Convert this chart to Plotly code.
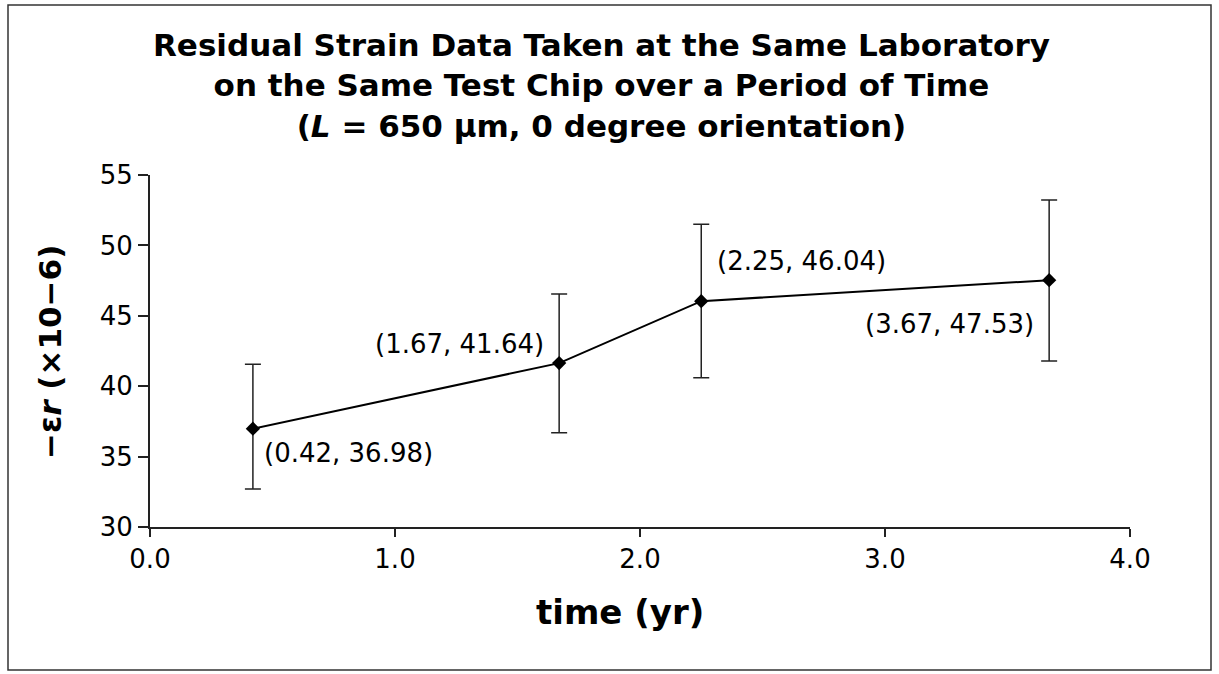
import plotly.graph_objects as go

# Data
time_yr = [0.42, 1.67, 2.25, 3.67]
strain = [36.98, 41.64, 46.04, 47.53]
err_plus = [4.58, 4.91, 5.46, 5.69]
err_minus = [4.28, 4.94, 5.44, 5.74]
point_labels = ["(0.42, 36.98)", "(1.67, 41.64)", "(2.25, 46.04)", "(3.67, 47.53)"]
x_ticks = [0, 1, 2, 3, 4]
x_tick_text = ["0.0", "1.0", "2.0", "3.0", "4.0"]
y_ticks = [30, 35, 40, 45, 50, 55]

FONT = "DejaVu Sans"

fig = go.Figure()
fig.add_trace(go.Scatter(
    x=time_yr, y=strain, mode="lines+markers",
    line=dict(color="black", width=2),
    marker=dict(symbol="diamond", size=11, color="black"),
    error_y=dict(type="data", symmetric=False, array=err_plus, arrayminus=err_minus,
                 color="#222222", thickness=1.5, width=8),
    showlegend=False,
))

# label offsets (pixels)
offsets = [("left", 9, -24), ("right", -13, 19), ("left", 14, 40), ("right", -13, -44)]
for xv, yv, txt, (anc, dx, dy) in zip(time_yr, strain, point_labels, offsets):
    fig.add_annotation(x=xv, y=yv, xref="x", yref="y", text=txt, showarrow=False,
                       xanchor=anc, yanchor="middle", xshift=dx, yshift=dy,
                       font=dict(family=FONT, size=26, color="black"))

L, R, T, B = 150, 89, 175, 147
W, H = 1219, 674
pw, ph = W - L - R, H - T - B

def px(xp):
    return (xp - L) / pw

def py(yp):
    return (H - B - yp) / ph

# outer border
fig.add_shape(type="rect", xref="paper", yref="paper",
              x0=px(8), x1=px(1211), y0=py(670), y1=py(5),
              line=dict(color="#333333", width=1.5))

# title
fig.add_annotation(xref="paper", yref="paper", x=px(601), y=py(86),
                   text="<b>Residual Strain Data Taken at the Same Laboratory<br>on the Same Test Chip over a Period of Time<br>(<i>L</i> = 650 μm, 0 degree orientation)</b>",
                   showarrow=False, xanchor="center", yanchor="middle",
                   font=dict(family=FONT, size=31, color="black"))

# axis titles
fig.add_annotation(xref="paper", yref="paper", x=px(620), y=py(612),
                   text="<b>time (yr)</b>", showarrow=False,
                   xanchor="center", yanchor="middle",
                   font=dict(family=FONT, size=34, color="black"))
fig.add_annotation(xref="paper", yref="paper", x=px(50), y=py(352),
                   text="<b>−ε<i>r</i> (×10−6)</b>", showarrow=False,
                   textangle=-90, xanchor="center", yanchor="middle",
                   font=dict(family=FONT, size=31, color="black"))

fig.update_layout(
    width=W, height=H,
    margin=dict(l=L, r=R, t=T, b=B),
    paper_bgcolor="white", plot_bgcolor="white",
    font=dict(family=FONT, color="black"),
    xaxis=dict(range=[0, 4], tickvals=x_ticks, ticktext=x_tick_text,
               showgrid=False, zeroline=False, showline=True, linecolor="#222222", linewidth=2,
               ticks="outside", ticklen=8, tickwidth=2, tickcolor="#222222",
               tickfont=dict(family=FONT, size=26, color="black")),
    yaxis=dict(range=[30, 55], tickvals=y_ticks,
               showgrid=False, zeroline=False, showline=True, linecolor="#222222", linewidth=2,
               ticks="outside", ticklen=10, tickwidth=2, tickcolor="#222222",
               tickfont=dict(family=FONT, size=26, color="black")),
)

fig.write_html("out.html", config={"displayModeBar": False},
               post_script="document.body.style.margin='0';document.body.style.overflow='hidden';")
